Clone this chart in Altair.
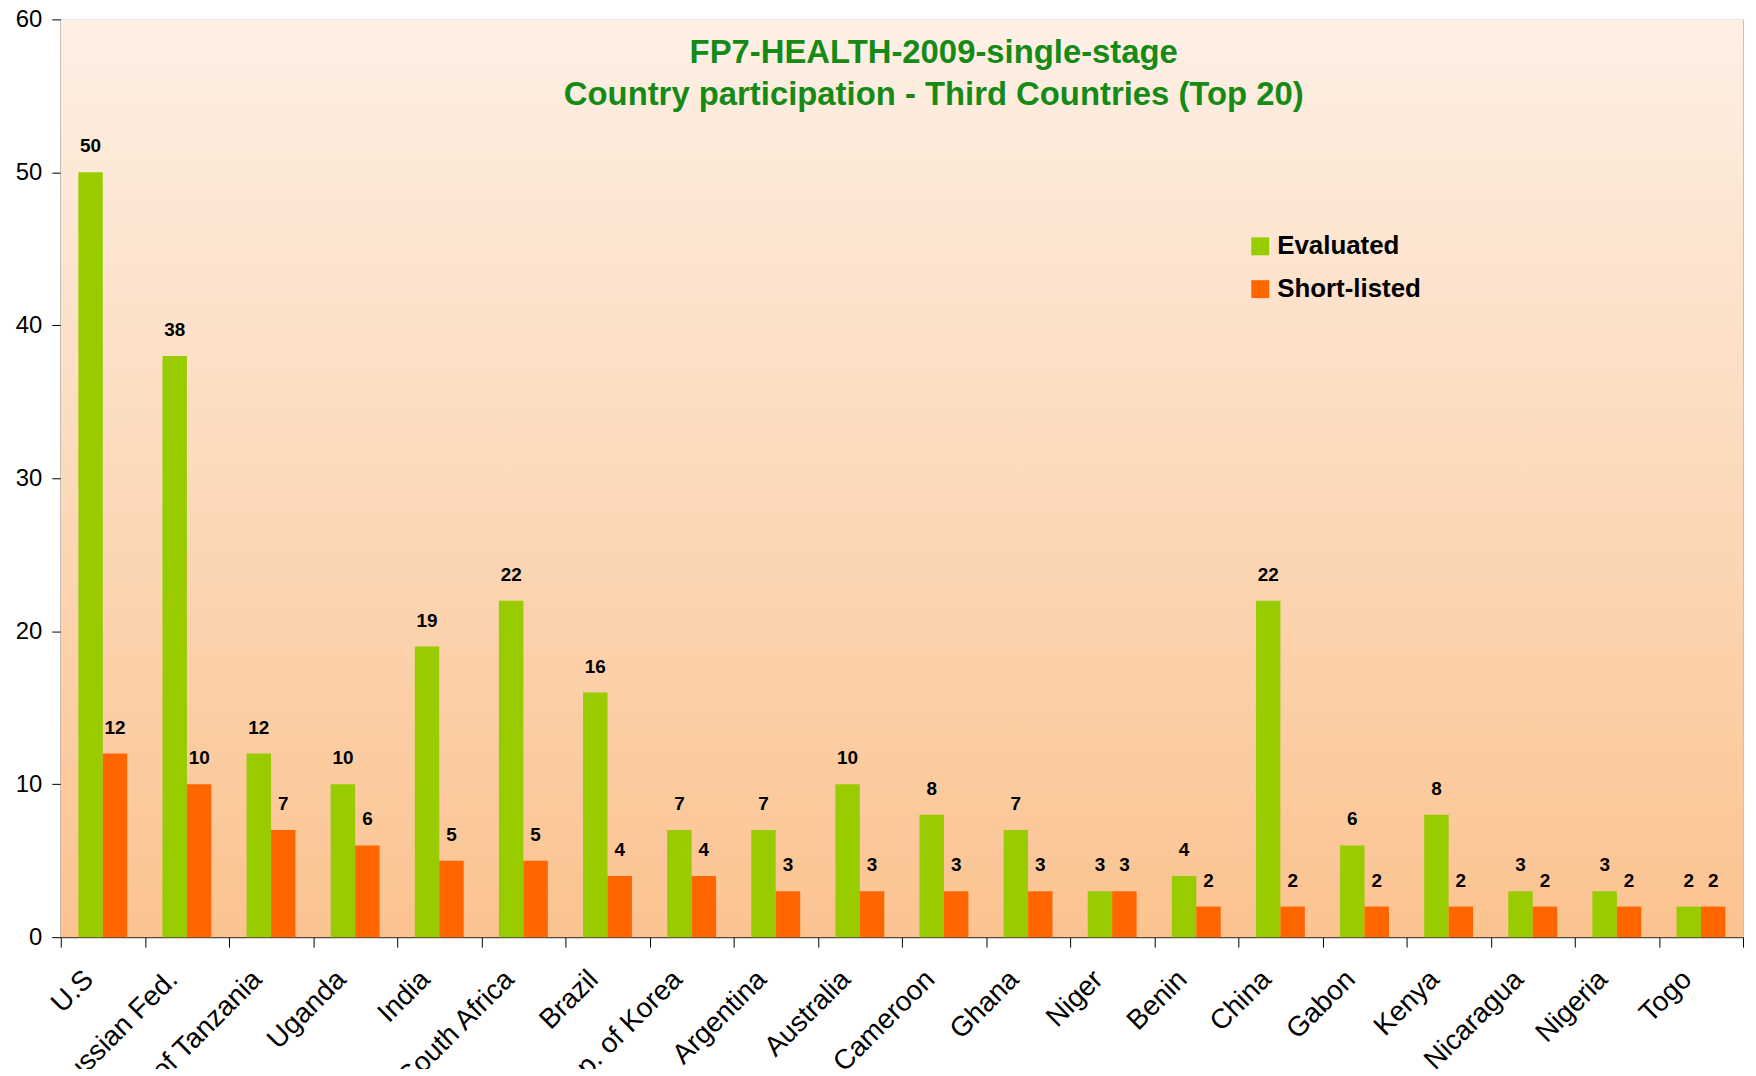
import altair as alt
import pandas as pd

countries = ["U.S", "Russian Fed.", "United Rep. of Tanzania", "Uganda", "India",
             "South Africa", "Brazil", "Rep. of Korea", "Argentina", "Australia",
             "Cameroon", "Ghana", "Niger", "Benin", "China", "Gabon", "Kenya",
             "Nicaragua", "Nigeria", "Togo"]
evaluated = [50, 38, 12, 10, 19, 22, 16, 7, 7, 10, 8, 7, 3, 4, 22, 6, 8, 3, 3, 2]
short_listed = [12, 10, 7, 6, 5, 5, 4, 4, 3, 3, 3, 3, 3, 2, 2, 2, 2, 2, 2, 2]
series = ["Evaluated", "Short-listed"]
colors = ["#99CC00", "#FF6600"]
y_ticks = [0, 10, 20, 30, 40, 50, 60]
title_lines = ["FP7-HEALTH-2009-single-stage",
               "Country participation - Third Countries (Top 20)"]

rows = []
for c, e, s in zip(countries, evaluated, short_listed):
    rows.append({"country": c, "series": series[0], "value": e})
    rows.append({"country": c, "series": series[1], "value": s})
df = pd.DataFrame(rows)

FONT = "Liberation Sans"
W, H = 1690, 922

x_enc = alt.X("country:N", sort=countries,
              scale=alt.Scale(paddingInner=0, paddingOuter=0),
              axis=alt.Axis(title=None, labelAngle=315, labelAlign="right",
                            labelBaseline="middle", labelFontSize=28, labelFont=FONT,
                            labelColor="black", labelPadding=28, labelOffset=-14,
                            labelLimit=500, labelOverlap=False, tickBand="extent",
                            tickSize=10, tickColor="black", domainColor="black",
                            grid=False))
xo_enc = alt.XOffset("series:N", sort=series,
                     scale=alt.Scale(paddingOuter=0.72, paddingInner=0))
y_enc = alt.Y("value:Q", scale=alt.Scale(domain=[0, 60], nice=False),
              axis=alt.Axis(title=None, values=y_ticks, labelFontSize=24, labelFont=FONT,
                            labelColor="black", tickSize=9, labelPadding=10,
                            tickColor="black", domainColor="black", grid=False))

bg = alt.Chart(pd.DataFrame({"a": [0]})).mark_rect(
    color=alt.LinearGradient(gradient="linear", x1=0, y1=0, x2=0, y2=1,
                             stops=[alt.GradientStop(offset=0, color="#FDF0E5"),
                                    alt.GradientStop(offset=1, color="#FBC390")])
).encode(x=alt.value(0), x2=alt.value(W), y=alt.value(0), y2=alt.value(H))

bars = alt.Chart(df).mark_bar().encode(
    x=x_enc, xOffset=xo_enc, y=y_enc,
    color=alt.Color("series:N", sort=series,
                    scale=alt.Scale(domain=series, range=colors),
                    legend=alt.Legend(title=None, orient="none", legendX=1192, legendY=215,
                                      symbolType="square", symbolSize=324,
                                      symbolStrokeWidth=0, labelFontSize=26,
                                      labelFont=FONT, labelFontWeight="bold",
                                      labelColor="black", rowPadding=17,
                                      labelOffset=4, padding=0))
)

labels = alt.Chart(df).mark_text(dy=-20, baseline="alphabetic", fontWeight="bold",
                                 fontSize=19, font=FONT, color="black").encode(
    x=x_enc, xOffset=xo_enc, y=y_enc, text="value:Q"
)

title_df = pd.DataFrame({"t": ["\n".join(title_lines)]})
title = alt.Chart(title_df).mark_text(
    fontSize=33, font=FONT, fontWeight="bold", color="#168A16",
    lineBreak="\n", lineHeight=42.5, baseline="middle", align="center"
).encode(x=alt.value(877), y=alt.value(34), text="t:N")

chart = alt.layer(bg, bars, labels, title).properties(
    width=W, height=H,
    autosize=alt.AutoSizeParams(type="none"),
    padding={"left": 53, "top": 9, "right": 5, "bottom": 130},
).configure_view(stroke="#C0C0C0", strokeWidth=1)

chart.save("out.html", embed_options={"renderer": "svg", "actions": False})
